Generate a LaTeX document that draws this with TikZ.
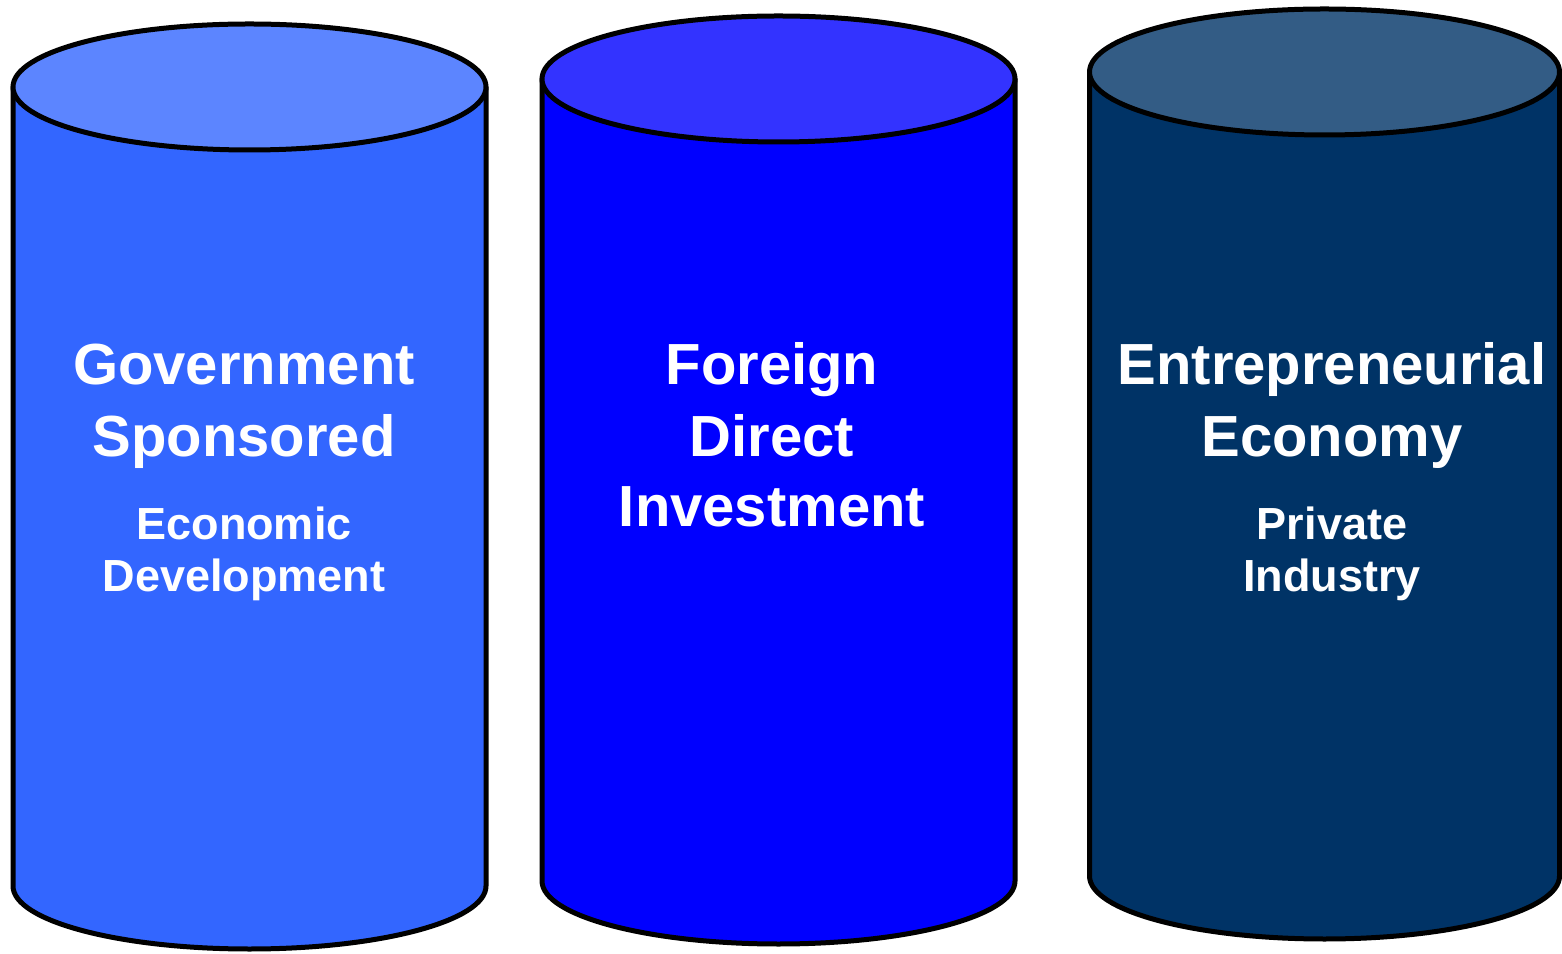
\documentclass[tikz,border=0pt]{standalone}
\usepackage{fontspec}
\setmainfont{Liberation Sans}
\definecolor{cA}{HTML}{3366FF}
\definecolor{cAtop}{HTML}{5C85FF}
\definecolor{cB}{HTML}{0000FF}
\definecolor{cBtop}{HTML}{3333FF}
\definecolor{cC}{HTML}{003366}
\definecolor{cCtop}{HTML}{335C85}
\tikzset{
  cyl/.style={draw=black, line width=5pt, line join=round},
  big/.style={text=white, font=\fontsize{58}{70}\selectfont\bfseries, anchor=base, inner sep=0pt},
  small/.style={text=white, font=\fontsize{45}{54}\selectfont\bfseries, anchor=base, inner sep=0pt}
}
\begin{document}
\begin{tikzpicture}[x=1pt,y=1pt]
\useasboundingbox (0,0) rectangle (1562,953);
% cylinder 1
\draw[cyl, fill=cA] (13,866) -- (13,67) arc[start angle=180, end angle=360, x radius=236.5pt, y radius=63pt] -- (486,866) -- cycle;
\draw[cyl, fill=cAtop] (249.5,866) ellipse [x radius=236.5pt, y radius=63pt];
% cylinder 2
\draw[cyl, fill=cB] (542,874) -- (542,72) arc[start angle=180, end angle=360, x radius=236.5pt, y radius=63pt] -- (1015,874) -- cycle;
\draw[cyl, fill=cBtop] (778.5,874) ellipse [x radius=236.5pt, y radius=63pt];
% cylinder 3
\draw[cyl, fill=cC] (1089.5,881) -- (1089.5,77) arc[start angle=180, end angle=360, x radius=235pt, y radius=63pt] -- (1559.5,881) -- cycle;
\draw[cyl, fill=cCtop] (1324.5,881) ellipse [x radius=235pt, y radius=63pt];
% texts
\node[big] (a1) at (244,568) {Government};
\node[big] (a2) at (244,496) {Sponsored};
\node[small] (a3) at (244,413) {Economic};
\node[small] (a4) at (244,361) {Development};
\node[big] (b1) at (772,568) {Foreign};
\node[big] (b2) at (772,496) {Direct};
\node[big] (b3) at (772,426) {Investment};
\node[big] (c1) at (1332,568) {Entrepreneurial};
\node[big] (c2) at (1332,496) {Economy};
\node[small] (c3) at (1332,413) {Private};
\node[small] (c4) at (1332,361) {Industry};
\end{tikzpicture}
\end{document}
